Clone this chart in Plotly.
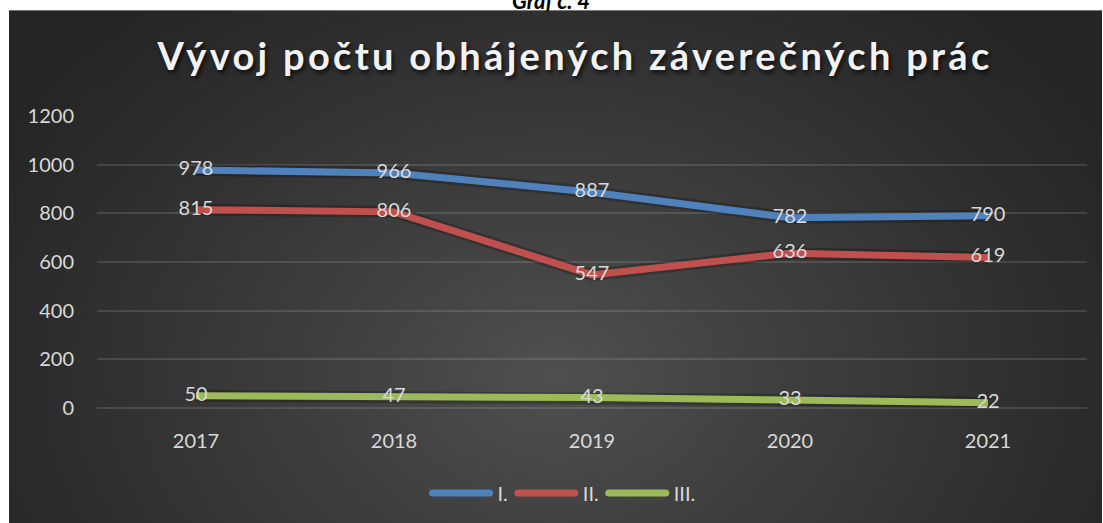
import base64, struct, zlib
import numpy as np
import plotly.graph_objects as go

# ---- data ----
years = ["2017", "2018", "2019", "2020", "2021"]
series_names = ["I.", "II.", "III."]
values_I = [978, 966, 887, 782, 790]
values_II = [815, 806, 547, 636, 619]
values_III = [50, 47, 43, 33, 22]
y_ticks = [0, 200, 400, 600, 800, 1000, 1200]
title_text = "Vývoj počtu obhájených záverečných prác"
caption_text = "Graf č. 4"

colors = ["#4f81bd", "#c0504d", "#9bbb59"]
W, H = 1103, 523
L, R, T, B = 97, 16, 116, 114
pw, ph = W - L - R, H - T - B


def px2paper_x(px):
    return (px - L) / pw


def px2paper_y(py):
    return (H - B - py) / ph


# ---- radial gradient background (style only) ----
def make_png(arr):
    h, w = arr.shape
    raw = b"".join(b"\x00" + arr[i].tobytes() for i in range(h))

    def chunk(tag, data):
        c = struct.pack(">I", len(data)) + tag + data
        return c + struct.pack(">I", zlib.crc32(tag + data) & 0xFFFFFFFF)

    return (b"\x89PNG\r\n\x1a\n" + chunk(b"IHDR", struct.pack(">IIBBBBB", w, h, 8, 0, 0, 0, 0))
            + chunk(b"IDAT", zlib.compress(raw, 9)) + chunk(b"IEND", b""))


gw, gh = 220, 104
u = (np.arange(gw) + 0.5) / gw
v = (np.arange(gh) + 0.5) / gh
U, V = np.meshgrid(u, v)
d = np.sqrt(((U - 0.5) / 0.6) ** 2 + ((V - 0.7) / 0.95) ** 2)
val = 37 + (80 - 37) * np.clip(1 - d, 0, 1) ** 1.1
img = np.clip(val, 0, 255).astype(np.uint8)
bg_uri = "data:image/png;base64," + base64.b64encode(make_png(img)).decode()

font_family = "Lato, 'Open Sans', sans-serif"
txt_color = "#d9d9d9"

fig = go.Figure()
for name, vals, col in zip(series_names, [values_I, values_II, values_III], colors):
    # soft shadow
    fig.add_trace(go.Scatter(x=years, y=vals, mode="lines", showlegend=False, hoverinfo="skip",
                             line=dict(color="rgba(0,0,0,0.22)", width=12)))
for name, vals, col in zip(series_names, [values_I, values_II, values_III], colors):
    fig.add_trace(go.Scatter(x=years, y=vals, mode="lines+text", name=name,
                             line=dict(color=col, width=7),
                             text=[str(v) for v in vals], textposition="middle center",
                             textfont=dict(family=font_family, size=20, color=txt_color)))

fig.add_layout_image(dict(source=bg_uri, xref="paper", yref="paper",
                          x=px2paper_x(9), y=px2paper_y(10),
                          sizex=(1102 - 9) / pw, sizey=(535 - 10) / ph,
                          xanchor="left", yanchor="top", sizing="stretch", layer="below"))

fig.add_annotation(text="<b><i>" + caption_text + "</i></b>", xref="paper", yref="paper",
                   x=px2paper_x(551), y=px2paper_y(16), xanchor="center", yanchor="bottom",
                   showarrow=False, font=dict(family="Lato, sans-serif", size=22, color="#000000"))

fig.update_layout(
    width=W, height=H, autosize=False,
    margin=dict(l=L, r=R, t=T, b=B),
    paper_bgcolor="#ffffff", plot_bgcolor="rgba(0,0,0,0)",
    title=dict(text="<b>" + title_text + "</b>", xref="paper", x=px2paper_x(575), xanchor="center",
               y=1 - 57 / H, yanchor="middle",
               font=dict(family=font_family, size=38, color="#f2f2f2",
                         shadow="2px 3px 4px rgba(0,0,0,0.7)")),
    xaxis=dict(type="category", showgrid=False, zeroline=False, showline=False,
               ticks="", ticklabelstandoff=19,
               tickfont=dict(family=font_family, size=20, color=txt_color),
               range=[-0.5, 4.5]),
    yaxis=dict(range=[0, 1200], tickvals=y_ticks, ticktext=[str(t) for t in y_ticks],
               showgrid=True, gridcolor="rgba(255,255,255,0.12)", gridwidth=1.5,
               zeroline=True, zerolinecolor="rgba(255,255,255,0.12)", zerolinewidth=1.5,
               showline=False, ticks="", ticklabelstandoff=22,
               tickfont=dict(family=font_family, size=20, color=txt_color)),
    legend=dict(orientation="h", x=px2paper_x(564), xanchor="center", y=px2paper_y(493), yanchor="middle",
                font=dict(family=font_family, size=20, color=txt_color),
                bgcolor="rgba(0,0,0,0)", itemwidth=60),
    showlegend=True,
)

post = ("document.body.style.margin='0';document.body.style.padding='0';"
        "var t=document.querySelectorAll('.gtitle');"
        "for(var i=0;i<t.length;i++){t[i].style.letterSpacing='3.3px';}"
        "var p=document.querySelectorAll('.legendlines path');"
        "for(var j=0;j<p.length;j++){p[j].setAttribute('d','M5,0h57');"
        "p[j].style.strokeLinecap='round';}")
fig.write_html("out.html", post_script=post, config={"displayModeBar": False})
